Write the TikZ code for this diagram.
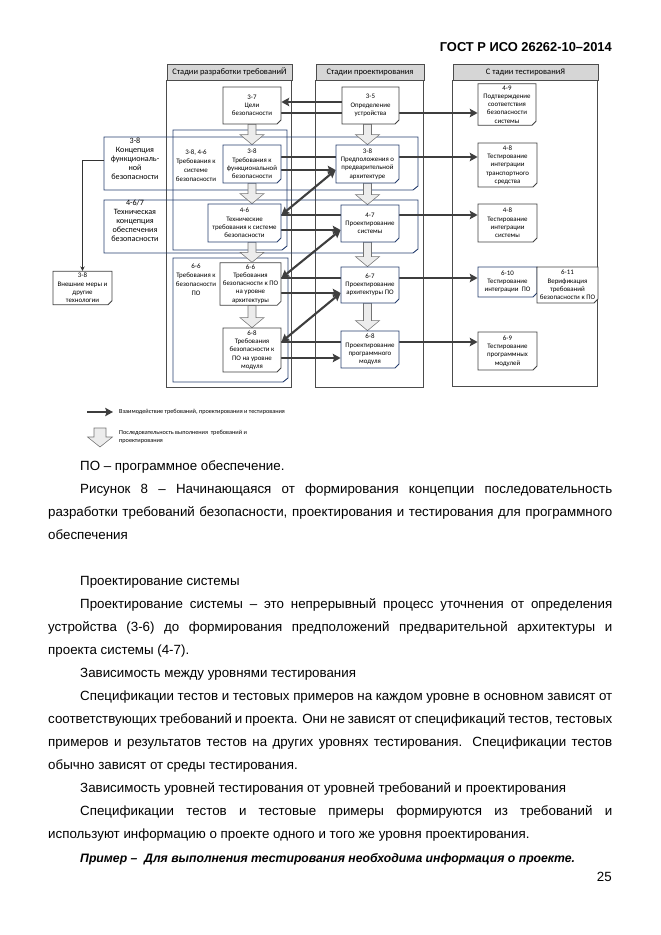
\documentclass[tikz,border=0pt]{standalone}
\usepackage{fontspec}
\setmainfont{Liberation Sans}
\newfontfamily\diagfont{Carlito}
\usepackage{xcolor}
\usetikzlibrary{arrows.meta}
\usetikzlibrary{shapes.misc}
\usetikzlibrary{calc}
\usetikzlibrary{backgrounds}

\definecolor{navy}{RGB}{38,62,110}
\definecolor{arrowgray}{RGB}{62,62,62}
\definecolor{headgray}{RGB}{214,214,214}
\definecolor{seqfill}{RGB}{236,236,236}

\newcommand\pxu{0.9pt}
% hollow block arrow: column node, upper box, lower box
\newcommand\seqarrow[3]{%
  \path[seqarr] let \p1=(#1.south), \p2=(#2.south), \p3=(#3.north) in
    (\x1-3.6pt,\y2) -- (\x1+3.6pt,\y2) -- (\x1+3.6pt,\y3+9pt) -- (\x1+10.8pt,\y3+9pt)
    -- (\x1,\y3) -- (\x1-10.8pt,\y3+9pt) -- (\x1-3.6pt,\y3+9pt) -- cycle;}

\begin{document}
\begin{tikzpicture}[x=0.9pt,y=-0.9pt,>={Stealth[length=7pt,width=7.5pt,inset=1.2pt]},
  bx/.style 2 args={draw=black!75, fill=white, line width=0.7pt, chamfered rectangle,
    chamfered rectangle corners=south east, chamfered rectangle sep=1.8pt,
    inner sep=0pt, align=center, font=\diagfont\fontsize{6.2}{7.4}\selectfont,
    minimum width=#1*\pxu, minimum height=#2*\pxu},
  blbx/.style 2 args={bx={#1}{#2}, draw=navy},
  colhead/.style={draw=black!70, fill=headgray, line width=0.8pt, inner sep=0pt,
    font=\diagfont\fontsize{7.6}{9}\selectfont, minimum height=16*\pxu},
  colline/.style={draw=black!70, line width=1pt},
  grp/.style={draw=navy, line width=0.8pt},
  grplabel/.style={align=center, inner sep=0pt, font=\diagfont\fontsize{6.2}{8.1}\selectfont},
  conclabel/.style={align=center, inner sep=0pt, font=\diagfont\fontsize{7.3}{8.1}\selectfont},
  ia/.style={draw=arrowgray, line width=1.9pt, ->},
  iab/.style={draw=arrowgray, line width=1.9pt, <->},
  link/.style={draw=black!80, line width=0.6pt, -{Stealth[length=4pt,width=4pt]}},
  seqarr/.style={draw=black!55, fill=seqfill, line width=0.5pt},
  legtext/.style={anchor=west, align=left, inner sep=0pt, font=\diagfont\fontsize{5.6}{7.4}\selectfont},
  txt/.style={inner sep=0pt, font=\fontsize{12}{14}\selectfont}]

\useasboundingbox (0,0) rectangle (661,935);

\node[txt, font=\fontsize{11.6}{14}\selectfont\bfseries, anchor=base east] (hd) at (612,51) {ГОСТ Р ИСО 26262-10–2014};

% column headers
\node[colhead, minimum width=125*\pxu] (hreq) at (229.5,72) {Стадии разработки требованиЙ};
\node[colhead, minimum width=108*\pxu] (hdes) at (370,72) {Стадии проектирования};
\node[colhead, minimum width=145*\pxu] (htst) at (525.5,72) {С тадии тестированиЯ};

% requirements
\node[bx={58}{37}] (r37) at (252,105.5) {3-7\\Цели\\безопасности};
\node[blbx={58}{38}] (r38) at (252,164) {3-8\\Требования к\\функциональной\\безопасности};
\node[blbx={73}{38}] (r46) at (244.5,223) {4-6\\Технические\\требования к системе\\безопасности};
\node[bx={61}{42}] (r66) at (250.5,284) {6-6\\Требования\\безопасности к ПО\\на уровне\\архитектуры};
\node[bx={58}{44}] (r68) at (252,350) {6-8\\Требования\\безопасности к\\ПО на уровне\\модуля};

% design
\node[bx={57}{37}] (d35) at (370.5,105.5) {3-5\\Определение\\устройства};
\node[blbx={63}{38}] (d36) at (367.5,164) {3-8\\Предположения о\\предварительной\\архитектуре};
\node[blbx={58}{37}] (d47) at (370,223.5) {4-7\\Проектирование\\системы};
\node[blbx={58}{36}] (d67) at (370,285) {6-7\\Проектирование\\архитектуры ПО};
\node[blbx={58}{37}] (d68) at (370,349.5) {6-8\\Проектирование\\программного\\модуля};

% testing
\node[bx={58}{41}] (t49) at (507,104.5) {4-9\\Подтверждение\\соответствия\\безопасности\\системы};
\node[bx={59}{44}] (t48v) at (507.5,165) {4-8\\Тестирование\\интеграции\\транспортного\\средства};
\node[bx={59}{38}] (t48s) at (507.5,223) {4-8\\Тестирование\\интеграции\\системы};
\node[blbx={59}{30}] (t610) at (507.5,282) {6-10\\Тестирование\\интеграции~~ПО};
\node[bx={61}{36}] (t611) at (567.5,285) {6-11\\Верификация\\требований\\безопасности к ПО};
\node[bx={59}{38}] (t69) at (507.5,351) {6-9\\Тестирование\\программных\\модулей};

\node[bx={59}{32}] (ext) at (82.5,288) {3-8\\Внешние меры и\\другие\\технологии};

% group labels
\node[conclabel] (lfsc) at (135,159) {3-8\\Концепция\\функциональ-\\ной\\безопасности};
\node[conclabel] (ltsc) at (135,221) {4-6/7\\Техническая\\концепция\\обеспечения\\безопасности};
\node[grplabel] (lsys) at (196,166) {3-8, 4-6\\Требования к\\системе\\безопасности};
\node[grplabel] (lsw) at (196,280) {6-6\\Требования к\\безопасности\\ПО};
\coordinate (g1w) at (104,160);

% legend
\coordinate (legA) at (87,412);
\coordinate (legB) at (113,412);
\node[legtext] (legt1) at (119,412) {Взаимодействие требований, проектирования и тестирования};
\coordinate (legC) at (100,428);
\coordinate (legD) at (100,447);
\node[legtext] (legt2) at (119,437) {Последовательность выполнения~~требований и\\проектирования};

\begin{scope}[on background layer]
% columns
\draw[colline] (hreq.south west) rectangle ++(125,307);
\draw[colline] (hdes.south west) rectangle ++(108,307);
\draw[colline] (htst.south west) rectangle ++(145,306);
% groups
\draw[grp] (104,137) -- (418,137) -- (418,186) -- (413,190) -- (104,190) -- cycle;
\draw[grp] (104,200) -- (418,200) -- (418,249) -- (413,253) -- (104,253) -- cycle;
\draw[grp] (173,130) -- (287,130) -- (287,246) -- (282,250) -- (173,250) -- cycle;
\draw[grp] (173,258) -- (288,258) -- (288,378) -- (283,382) -- (173,382) -- cycle;
\draw[link] (g1w) -| (ext.north);
% interaction
\draw[ia] ([yshift=3.15pt]d35.west) -- ([yshift=3.15pt]r37.east);
\draw[ia] ([yshift=-6.75pt]r37.east) -- ([yshift=-6.75pt]r37.east -| t49.west);
\draw[ia] ([yshift=6.3pt]r38.east) -- ([yshift=6.3pt]r38.east -| t48v.west);
\draw[ia] ([yshift=-5.4pt]r38.east) -- ([yshift=-5.4pt]r38.east -| d36.west);
\draw[iab] ([yshift=7.2pt]r46.east) -- ([yshift=-5.4pt]d36.west);
\draw[ia] ([yshift=7.2pt]r46.east) -- ([yshift=7.2pt]r46.east -| t48s.west);
\draw[ia] ([yshift=-6.3pt]r46.east) -- ([yshift=-6.3pt]r46.east -| d47.west);
\draw[iab] ([yshift=5.4pt]r66.east) -- ([yshift=-5.85pt]d47.west);
\draw[ia] ([yshift=5.4pt]r66.east) -- ([yshift=5.4pt]r66.east -| t610.west);
\draw[ia] ([yshift=-8.1pt]r66.east) -- ([yshift=-8.1pt]r66.east -| d67.west);
\draw[iab] ([yshift=7.2pt]r68.east) -- ([yshift=-7.2pt]d67.west);
\draw[ia] ([yshift=7.2pt]r68.east) -- ([yshift=7.2pt]r68.east -| t69.west);
\draw[ia] ([yshift=-7.2pt]r68.east) -- ([yshift=-7.2pt]r68.east -| d68.west);
\draw[ia] (legA) -- (legB);
% sequence
\seqarrow{r37}{r37}{r38}
\seqarrow{r37}{r38}{r46}
\seqarrow{r37}{r46}{r66}
\seqarrow{r37}{r66}{r68}
\seqarrow{d36}{d35}{d36}
\seqarrow{d36}{d36}{d47}
\seqarrow{d36}{d47}{d67}
\seqarrow{d36}{d67}{d68}
\path[seqarr] let \p1=(legC), \p2=(legD) in
  (\x1-5.4pt,\y1) -- (\x1+5.4pt,\y1) -- (\x1+5.4pt,\y2+9pt) -- (\x1+11.2pt,\y2+9pt)
  -- (\x1,\y2) -- (\x1-11.2pt,\y2+9pt) -- (\x1-5.4pt,\y2+9pt) -- cycle;
\end{scope}

% text of the page
\node[txt, anchor=base west] (p0) at (80,470) {ПО – программное обеспечение.};
\node[txt, anchor=base west] (p1) at (80,493.06) {\makebox[478.8pt][s]{Рисунок 8 – Начинающаяся от формирования концепции последовательность}};
\node[txt, anchor=base west] (p2) at (48,516.12) {\makebox[507.6pt][s]{разработки требований безопасности, проектирования и тестирования для программного}};
\node[txt, anchor=base west] (p3) at (48,539.18) {обеспечения};
\node[txt, anchor=base west] (p5) at (80,585.3) {Проектирование системы};
\node[txt, anchor=base west] (p6) at (80,608.36) {\makebox[478.8pt][s]{Проектирование системы – это непрерывный процесс уточнения от определения}};
\node[txt, anchor=base west] (p7) at (48,631.42) {\makebox[507.6pt][s]{устройства (3-6) до формирования предположений предварительной архитектуры и}};
\node[txt, anchor=base west] (p8) at (48,654.48) {проекта системы (4-7).};
\node[txt, anchor=base west] (p9) at (80,677.54) {Зависимость между уровнями тестирования};
\node[txt, anchor=base west] (p10) at (80,700.6) {\makebox[478.8pt][s]{Спецификации тестов и тестовых примеров на каждом уровне в основном зависят от}};
\node[txt, anchor=base west] (p11) at (48,723.66) {\makebox[507.6pt][s]{соответствующих требований и проекта. Они не зависят от спецификаций тестов, тестовых}};
\node[txt, anchor=base west] (p12) at (48,746.72) {\makebox[507.6pt][s]{примеров и результатов тестов на других уровнях тестирования. Спецификации тестов}};
\node[txt, anchor=base west] (p13) at (48,769.78) {обычно зависят от среды тестирования.};
\node[txt, anchor=base west] (p14) at (80,792.84) {Зависимость уровней тестирования от уровней требований и проектирования};
\node[txt, anchor=base west] (p15) at (80,815.9) {\makebox[478.8pt][s]{Спецификации тестов и тестовые примеры формируются из требований и}};
\node[txt, anchor=base west] (p16) at (48,838.96) {используют информацию о проекте одного и того же уровня проектирования.};
\node[txt, font=\fontsize{11}{13}\selectfont\bfseries\itshape, anchor=base west] (p17) at (80,862.02) {Пример –~ Для выполнения тестирования необходима информация о проекте.};
\node[txt, anchor=base east] (pg) at (612,881) {25};
\end{tikzpicture}
\end{document}
